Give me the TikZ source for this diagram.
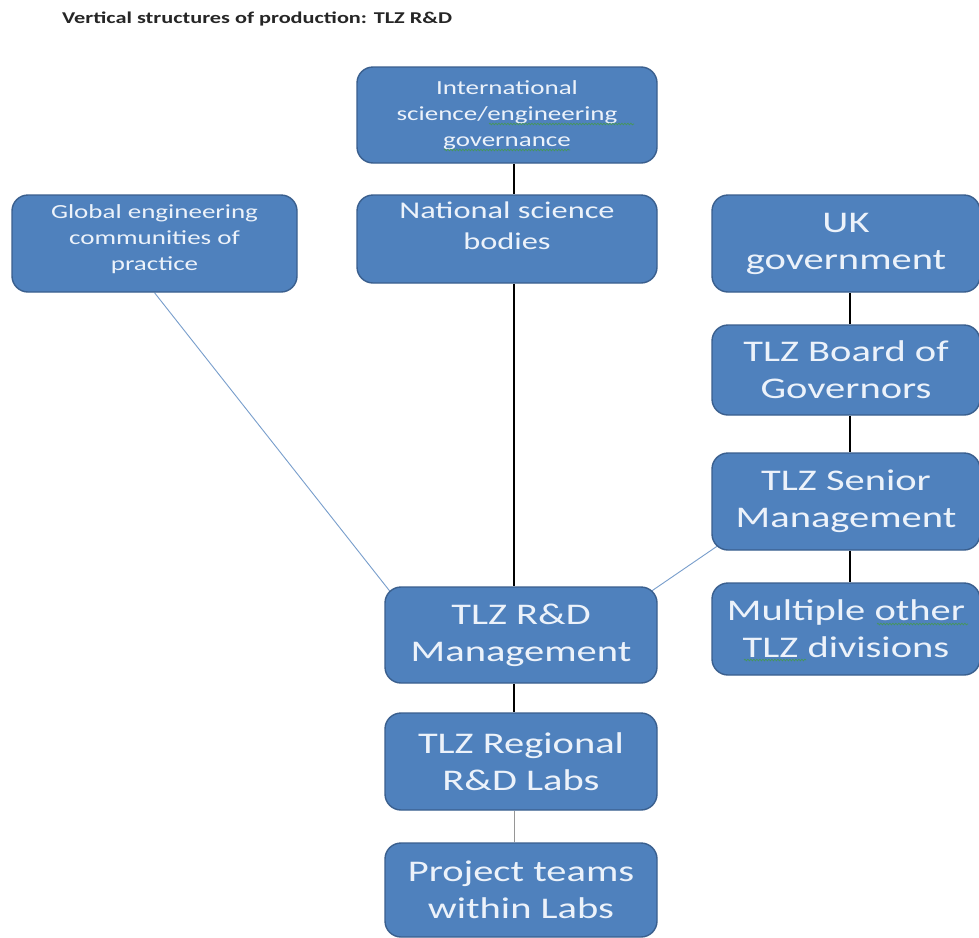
\documentclass[tikz,border=0pt]{standalone}
\usepackage{fontspec}
\setmainfont{Carlito}[FakeStretch=1.35]
\usetikzlibrary{backgrounds,calc,decorations.pathmorphing}
\definecolor{boxfill}{RGB}{79,129,189}
\definecolor{boxedge}{RGB}{58,95,142}
\definecolor{boxtext}{RGB}{236,242,250}
\definecolor{thinblue}{RGB}{120,158,204}
\definecolor{thingray}{RGB}{150,150,150}
\definecolor{spellgreen}{RGB}{70,150,90}
\tikzset{
  orgbox/.style={draw=boxedge, line width=1.4pt, fill=boxfill, rounded corners=16pt,
    text=boxtext, align=center, inner sep=0pt},
  smalltext/.style={font=\fontsize{20}{26}\selectfont},
  midtext/.style={font=\fontsize{24}{31}\selectfont},
  bigtext/.style={font=\fontsize{30}{37}\selectfont},
  vline/.style={draw=black, line width=1.6pt},
  thinline/.style={draw=thinblue, line width=0.9pt},
  grayline/.style={draw=thingray, line width=0.9pt},
  squiggle/.style={draw=spellgreen, line width=0.7pt, decorate,
    decoration={snake, amplitude=0.8pt, segment length=3pt}},
}
\begin{document}
\begin{tikzpicture}[x=1pt,y=-1pt]
\useasboundingbox (0,0) rectangle (979,937);
\node[anchor=base west, font=\fontsize{16.5}{19}\selectfont\bfseries, text=black!85, inner sep=0pt] (title) at (62,23) {Vertical structures of production: TLZ R\&D};

\node[orgbox, smalltext, minimum width=300pt, minimum height=96pt] (intl) at (507,115) {International\\science/engineering\\governance};
\node[orgbox, midtext, minimum width=300pt, minimum height=88pt] (natl) at (507,239) {National science\\bodies\\[-4pt]};
\node[orgbox, smalltext, minimum width=285pt, minimum height=97pt] (glob) at (154.5,243.5) {Global engineering\\communities of\\practice\\[-14pt]};
\node[orgbox, bigtext, minimum width=268pt, minimum height=97pt] (uk) at (846,243.5) {UK\\government};
\node[orgbox, bigtext, minimum width=268pt, minimum height=90pt] (board) at (846,370) {TLZ Board of\\Governors};
\node[orgbox, bigtext, minimum width=268pt, minimum height=97pt] (senior) at (846,501.5) {TLZ Senior\\Management};
\node[orgbox, bigtext, minimum width=268pt, minimum height=92pt] (multi) at (846,629) {Multiple other\\TLZ divisions};
\node[orgbox, bigtext, minimum width=272pt, minimum height=96pt] (rdm) at (521,635) {TLZ R\&D\\Management};
\node[orgbox, bigtext, minimum width=272pt, minimum height=97pt] (regional) at (521,761.5) {TLZ Regional\\R\&D Labs};
\node[orgbox, bigtext, minimum width=272pt, minimum height=94pt] (project) at (521,890) {Project teams\\within Labs};

\coordinate (lx) at (514,0);
\coordinate (rx) at (850,0);

% spell-check underlines
\coordinate (s1a) at (489,124); \coordinate (s1b) at (634,124);
\coordinate (s2a) at (444,150); \coordinate (s2b) at (570,150);
\coordinate (s3a) at (877,624); \coordinate (s3b) at (968,624);
\coordinate (s4a) at (744,660); \coordinate (s4b) at (806,660);
\draw[squiggle] (s1a) -- (s1b);
\draw[squiggle] (s2a) -- (s2b);
\draw[squiggle] (s3a) -- (s3b);
\draw[squiggle] (s4a) -- (s4b);

\begin{scope}[on background layer]
  \fill[white] (0,0) rectangle (979,937);
  \draw[vline] (intl.south -| lx) -- (natl.north -| lx);
  \draw[vline] (natl.south -| lx) -- (rdm.north -| lx);
  \draw[vline] (rdm.south -| lx) -- (regional.north -| lx);
  \draw[grayline] (regional.south -| lx) -- (project.north -| lx);
  \draw[vline] (uk.south -| rx) -- (board.north -| rx);
  \draw[vline] (board.south -| rx) -- (senior.north -| rx);
  \draw[vline] (senior.south -| rx) -- (multi.north -| rx);
  \draw[thinline] (glob.south) -- ($(rdm.north west)+(8,8)$);
  \draw[thinline] ($(senior.south west)+(8,-6)$) -- ($(rdm.north east)+(-8,6)$);
\end{scope}
\end{tikzpicture}
\end{document}
